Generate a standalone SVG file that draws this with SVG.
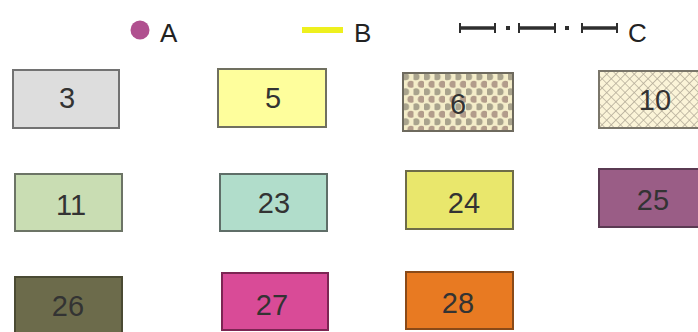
<svg xmlns="http://www.w3.org/2000/svg" width="698" height="332" viewBox="0 0 698 332">
<style>
.box{stroke-width:2}
.num{font-family:"Liberation Sans",Arial,sans-serif;font-size:29px;text-anchor:middle;fill:#333}
.leg{font-family:"Liberation Sans",Arial,sans-serif;font-size:26px;fill:#222}
.cl{stroke:#2e2e2e;stroke-width:3.5;fill:none}
.tk{stroke:#2e2e2e;stroke-width:2;fill:none}
</style>
<defs>
<pattern id="dots" patternUnits="userSpaceOnUse" x="403" y="73" width="10.5" height="15">
<rect width="10.5" height="15" fill="#f4edc9"/>
<circle cx="2.6" cy="3.8" r="3.5" fill="#a9a38d"/>
<circle cx="7.9" cy="11.3" r="3.5" fill="#b29c8b"/>
</pattern>
<pattern id="hatch" patternUnits="userSpaceOnUse" width="6.5" height="6.5" patternTransform="rotate(45)">
<rect width="6.5" height="6.5" fill="#fbf4d8"/>
<path d="M0 0H6.5M0 0V6.5" stroke="#b3ab98" stroke-width="1.6"/>
</pattern>
</defs>
<rect width="698" height="332" fill="#ffffff"/>

<g id="legend">
<circle cx="140" cy="30" r="9.5" fill="#b0508f"/>
<text class="leg" x="160" y="41.5">A</text>
<line x1="302" y1="30" x2="343" y2="30" stroke="#eef01e" stroke-width="6"/>
<text class="leg" x="354" y="41.5">B</text>
<g>
<line class="cl" x1="460" y1="28" x2="495" y2="28"/>
<line class="tk" x1="460" y1="23" x2="460" y2="33"/>
<line class="tk" x1="495" y1="23" x2="495" y2="33"/>
<rect x="506" y="26" width="4" height="4" fill="#2e2e2e"/>
<line class="cl" x1="519" y1="28" x2="555" y2="28"/>
<line class="tk" x1="519" y1="23" x2="519" y2="33"/>
<line class="tk" x1="555" y1="23" x2="555" y2="33"/>
<rect x="565" y="26" width="4" height="4" fill="#2e2e2e"/>
<line class="cl" x1="582" y1="28" x2="617" y2="28"/>
<line class="tk" x1="582" y1="23" x2="582" y2="33"/>
<line class="tk" x1="617" y1="23" x2="617" y2="33"/>
</g>
<text class="leg" x="628" y="41.5">C</text>
</g>

<g id="n3"><rect class="box" x="13" y="70" width="106" height="58" fill="#dddddd" stroke="#727272"/><text class="num" x="67" y="108">3</text></g>
<g id="n5"><rect class="box" x="218" y="69" width="108" height="58" fill="#fefe9c" stroke="#707060"/><text class="num" x="273" y="108">5</text></g>
<g id="n6"><rect class="box" x="403" y="73" width="110" height="58" fill="url(#dots)" stroke="#6e6a5e"/><text class="num" x="458" y="114">6</text></g>
<g id="n10"><rect class="box" x="599" y="71" width="116" height="57" fill="url(#hatch)" stroke="#7a766a"/><text class="num" x="655" y="110">10</text></g>

<g id="n11"><rect class="box" x="15" y="174" width="107" height="57" fill="#c9ddb3" stroke="#6c7466"/><text class="num" x="71" y="215">11</text></g>
<g id="n23"><rect class="box" x="220" y="174" width="107" height="57" fill="#b1ddcb" stroke="#5f6e68"/><text class="num" x="274" y="213">23</text></g>
<g id="n24"><rect class="box" x="406" y="171" width="107" height="58" fill="#e9e76c" stroke="#6e6c48"/><text class="num" x="464" y="213">24</text></g>
<g id="n25"><rect class="box" x="599" y="169" width="112" height="58" fill="#9a5d86" stroke="#5a3a52"/><text class="num" x="653" y="210" fill="#3c1b36">25</text></g>

<g id="n26"><rect class="box" x="15" y="277" width="107" height="60" fill="#6c6b4b" stroke="#4a4a33"/><text class="num" x="68" y="316" fill="#2c2c1c">26</text></g>
<g id="n27"><rect class="box" x="222" y="273" width="106" height="57" fill="#d94b97" stroke="#7c2553"/><text class="num" x="272" y="315" fill="#5a1233">27</text></g>
<g id="n28"><rect class="box" x="406" y="272" width="107" height="57" fill="#e87a22" stroke="#8a4a18"/><text class="num" x="458" y="313" fill="#5c2a0c">28</text></g>
</svg>
